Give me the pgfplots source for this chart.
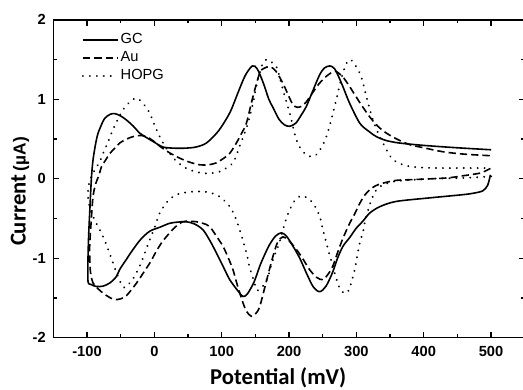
\documentclass[border=0pt]{standalone}
\usepackage{fontspec}
\setmainfont{Liberation Sans}
\newfontfamily\carlito{Carlito}
\usepackage{pgfplots}
\pgfplotsset{compat=1.18}
\begin{document}
\begin{tikzpicture}
\begin{axis}[
  at={(0pt,0pt)}, anchor=south west,
  width=353.6pt, height=238.5pt, scale only axis,
  xmin=-150, xmax=550, ymin=-2, ymax=2,
  xtick={-100,0,100,200,300,400,500}, minor x tick num=1,
  ytick={-2,-1,0,1,2}, minor y tick num=1,
  tick align=inside,
  major tick length=4.5pt, minor tick length=2.6pt,
  every tick/.style={line width=1pt, black},
  axis line style={line width=1.1pt},
  /pgf/number format/assume math mode=true,
  ticklabel style={font=\fontsize{11}{13}\selectfont\bfseries},
  xticklabel style={anchor=center, yshift=-10.5pt},
  yticklabel style={anchor=east, inner sep=0pt, xshift=-5.5pt},
  xlabel={\carlito\bfseries\fontsize{17}{19}\selectfont Potential (mV)},
  ylabel={{\carlito\bfseries\fontsize{17}{19}\selectfont Current} {\bfseries\fontsize{13}{15}\selectfont(µA)}},
  xlabel style={at={(axis description cs:0.477,-0.126)}, anchor=center},
  ylabel style={at={(axis description cs:-0.0706,0.46)}, anchor=center, rotate=0},
  legend style={at={(axis description cs:0.06,0.965)}, anchor=north west, draw=none, fill=none,
    inner sep=0pt, row sep=0.4pt, font=\fontsize{11}{13}\selectfont,
    nodes={inner sep=1.5pt, text height=7.8pt, text depth=2.4pt}},
  legend cell align=left,
  legend image code/.code={\draw[#1] (0pt,0pt) -- (26pt,0pt);},
]
% GC: cathodic branch 500 -> -100, then anodic -100 -> 500
\addplot[black, line width=1.2pt, smooth, tension=0.5] coordinates {
(499,0.05)(495,-0.08)(488,-0.15)(475,-0.18)(458,-0.2)(409,-0.24)(359,-0.285)(335,-0.35)(320,-0.43)(310,-0.53)(300,-0.62)(290,-0.74)(280,-0.85)(272,-1.0)(265,-1.17)(255,-1.35)(245.5,-1.42)(236,-1.36)(226,-1.19)(216,-1.0)(206,-0.85)(196,-0.72)(188.6,-0.68)(180,-0.72)(171,-0.83)(163,-0.97)(156.5,-1.10)(148,-1.3)(138,-1.45)(131.6,-1.48)(125,-1.42)(112,-1.27)(102,-1.1)(92,-0.93)(82,-0.77)(72,-0.64)(60,-0.57)(47.6,-0.54)(35,-0.545)(22.8,-0.56)(8,-0.61)(-6.9,-0.66)(-20,-0.76)(-31.7,-0.89)(-42,-1.02)(-51.4,-1.14)(-56.4,-1.23)(-66,-1.31)(-76,-1.35)(-86,-1.355)(-94,-1.33)(-98.5,-1.29)
(-98.5,-1.0)(-97.5,-0.7)(-96,-0.43)(-93.5,0)(-91,0.24)(-87,0.45)(-83.7,0.57)(-78,0.69)(-73.7,0.76)(-66,0.81)(-58.7,0.82)(-50,0.79)(-41.5,0.74)(-31,0.66)(-21.8,0.575)(-12,0.52)(-2,0.47)(12.8,0.40)(30,0.385)(47.5,0.386)(62,0.40)(77.3,0.45)(95,0.6)(112,0.83)(125,1.1)(135,1.3)(145.6,1.42)(153,1.38)(162,1.2)(170,1.0)(176,0.9)(185,0.75)(193,0.68)(201,0.66)(210,0.7)(218,0.8)(225.7,0.91)(235,1.1)(245,1.3)(252,1.39)(260.4,1.42)(268,1.38)(278,1.2)(290,0.95)(305,0.70)(318,0.6)(329.7,0.53)(345,0.48)(364,0.45)(400,0.42)(450,0.39)(500,0.365)
};
\addlegendentry{GC}
% Au
\addplot[black, line width=1.2pt, smooth, tension=0.5, dash pattern=on 5.5pt off 3pt] coordinates {
(499,0.13)(492,0.1)(483,0.07)(460,0.04)(433.6,0.01)(384,-0.01)(359,-0.02)(339.5,-0.055)(328,-0.09)(319.7,-0.14)(312,-0.21)(305,-0.31)(297,-0.45)(290,-0.56)(280,-0.75)(272,-0.93)(265,-1.10)(258,-1.2)(250.4,-1.27)(241,-1.24)(230.7,-1.145)(220,-1.0)(211,-0.89)(200,-0.78)(191,-0.73)(183,-0.8)(176,-0.98)(166,-1.3)(156.4,-1.61)(150,-1.7)(144,-1.73)(137,-1.67)(131.6,-1.56)(124,-1.36)(116.8,-1.145)(110,-1.0)(102,-0.85)(92,-0.72)(82,-0.6)(72,-0.56)(62.4,-0.54)(52,-0.535)(42.5,-0.54)(32,-0.6)(22.8,-0.68)(12,-0.79)(3,-0.91)(-6,-1.05)(-16.8,-1.19)(-28,-1.33)(-41.5,-1.47)(-50,-1.51)(-58.9,-1.52)(-67,-1.49)(-76,-1.44)(-84,-1.38)(-91,-1.31)(-94,-1.22)(-95.5,-1.1)
(-96,-0.85)(-93.5,-0.5)(-91,-0.22)(-87,-0.06)(-82,0.05)(-78.6,0.15)(-72,0.24)(-66,0.32)(-58,0.39)(-51.4,0.45)(-41,0.5)(-31.7,0.53)(-21,0.545)(-11.8,0.53)(-2,0.48)(8,0.41)(22,0.33)(37.6,0.26)(52,0.21)(67.3,0.176)(80,0.176)(92,0.2)(105,0.27)(112,0.32)(121.8,0.45)(130,0.58)(136.7,0.70)(146.5,1.035)(156.4,1.33)(163,1.39)(171.3,1.41)(180,1.36)(191,1.20)(199,1.05)(205.9,0.93)(212,0.9)(218,0.91)(225,0.96)(235.6,1.09)(245,1.2)(255.5,1.29)(264,1.34)(270,1.35)(280,1.28)(290,1.16)(305,0.96)(319.7,0.78)(332,0.66)(344.5,0.575)(360,0.5)(379,0.43)(400,0.39)(428.6,0.34)(460,0.31)(500,0.29)
};
\addlegendentry{Au}
% HOPG
\addplot[black, line width=1.6pt, line cap=round, smooth, tension=0.5, dash pattern=on 0.01pt off 5.2pt] coordinates {
(500,0.03)(480,0.02)(458,0.01)(409,0)(359,-0.03)(345,-0.06)(334.6,-0.1)(328,-0.16)(324.6,-0.22)(320,-0.32)(317,-0.41)(313,-0.53)(310,-0.66)(305,-0.81)(301,-0.98)(297.5,-1.145)(292,-1.32)(287.5,-1.42)(282,-1.44)(275.2,-1.375)(270,-1.25)(265,-1.10)(260,-0.95)(255.5,-0.81)(250,-0.63)(245.5,-0.47)(238,-0.34)(230.7,-0.26)(222,-0.22)(215.8,-0.22)(208,-0.28)(201,-0.39)(196,-0.5)(191,-0.64)(185,-0.82)(176,-1.02)(168,-1.25)(161.3,-1.35)(155,-1.40)(151.5,-1.39)(146.5,-1.25)(141,-1.1)(136.7,-0.93)(126.7,-0.64)(120,-0.48)(112,-0.35)(102,-0.26)(92,-0.2)(77,-0.165)(62.4,-0.16)(48,-0.17)(32.7,-0.2)(20,-0.28)(8,-0.43)(1,-0.6)(-6.9,-0.77)(-14,-0.93)(-21.8,-1.10)(-31,-1.25)(-41.5,-1.355)(-46.5,-1.36)(-53,-1.25)(-61.4,-1.06)(-68,-0.9)(-76,-0.73)(-83,-0.61)(-88.6,-0.52)(-94,-0.4)(-98,-0.28)
(-98,-0.1)(-94,0.02)(-88.6,0.11)(-82,0.2)(-76,0.32)(-68,0.48)(-61.4,0.62)(-54,0.75)(-46.5,0.87)(-37,0.96)(-26.7,1.015)(-17,0.95)(-7,0.83)(0,0.68)(8,0.53)(15,0.42)(22.8,0.32)(32,0.23)(42.5,0.155)(57,0.1)(72,0.07)(85,0.07)(97,0.09)(106,0.13)(116.8,0.2)(122,0.3)(126.7,0.41)(133,0.55)(139,0.70)(146.5,0.95)(151,1.15)(156.4,1.33)(161,1.45)(166.4,1.50)(172,1.48)(181.2,1.41)(186,1.28)(191,1.12)(196,0.97)(201,0.83)(206,0.65)(211,0.49)(218,0.37)(225.7,0.30)(233,0.28)(240,0.3)(248,0.39)(255.5,0.53)(262,0.72)(270,0.99)(275,1.17)(280,1.33)(285,1.45)(290,1.50)(296,1.46)(305,1.33)(310,1.2)(314.8,1.035)(319,0.9)(324.6,0.74)(332,0.58)(339.5,0.45)(347,0.33)(354.3,0.24)(365,0.19)(379,0.155)(400,0.14)(428.6,0.135)(460,0.135)(498,0.135)
};
\addlegendentry{HOPG}
\end{axis}
\pgfresetboundingbox
\useasboundingbox (-40pt,-39.15pt) rectangle (352.3pt,253.35pt);
\end{tikzpicture}
\end{document}
